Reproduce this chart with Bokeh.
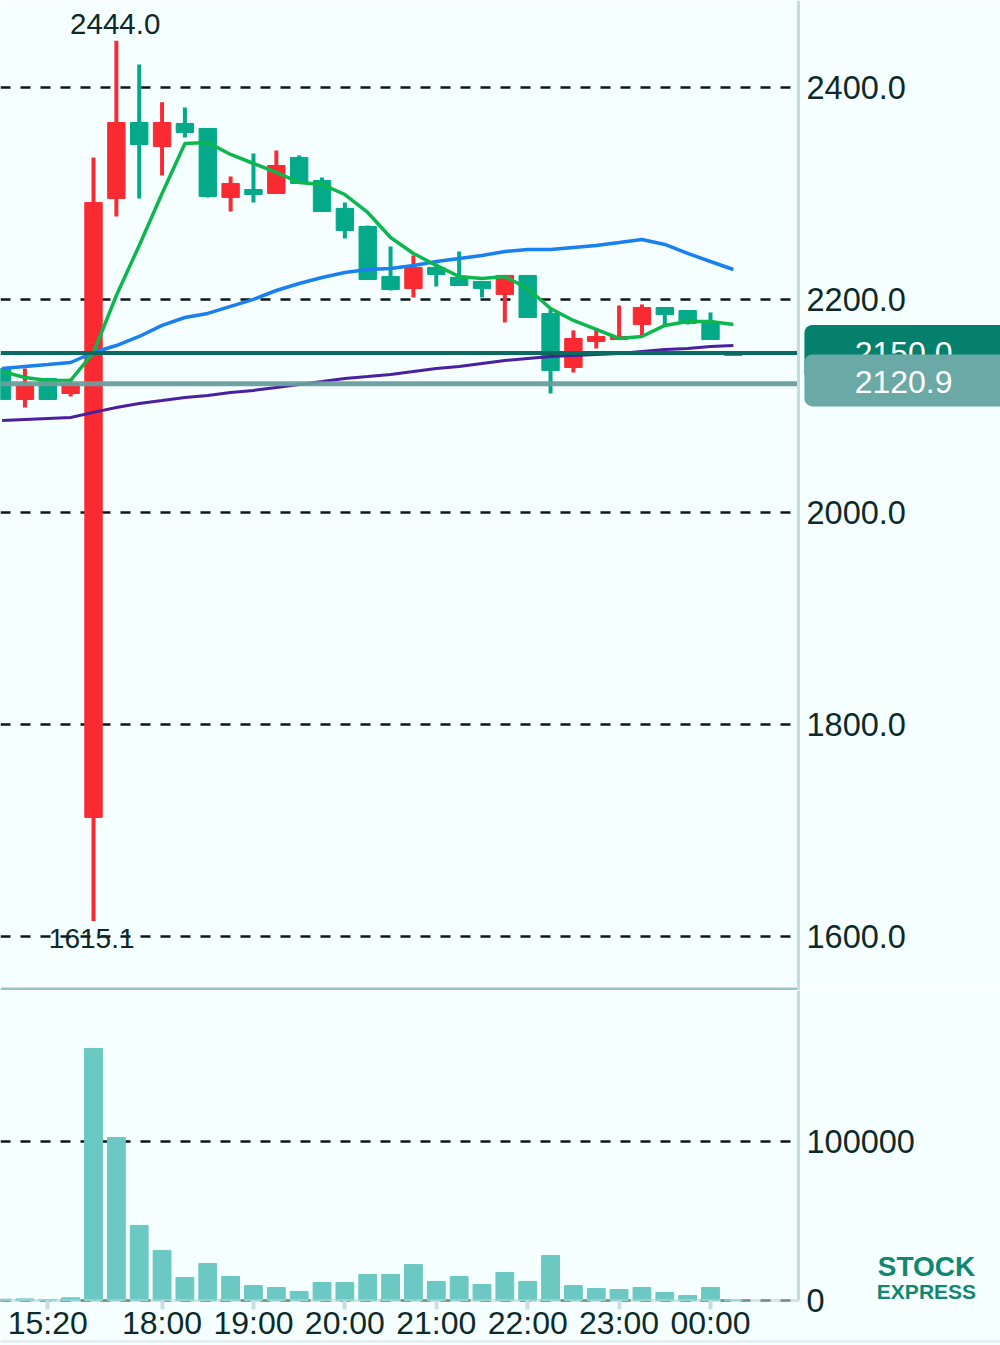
from bokeh.core.properties import value
from bokeh.embed import file_html
from bokeh.layouts import column
from bokeh.models import BoxAnnotation, ColumnDataSource, FixedTicker, Grid, Label, LinearAxis, Range1d
from bokeh.plotting import figure
from bokeh.resources import INLINE

opens = [2135.4, 2106.2, 2126.0, 2111.8, 1712.6, 2295.5, 2367.0, 2344.4, 2366.1, 2361.4, 2296.4, 2303.9, 2300.2, 2334.1, 2312.4, 2286.1, 2269.1, 2222.0, 2210.7, 2230.5, 2221.1, 2217.3, 2205.1, 2223.0, 2187.2, 2136.3, 2160.8, 2162.7, 2176.8, 2192.8, 2190.0, 2177.8, 2150.0]
highs = [2135.4, 2135.4, 2126.0, 2126.0, 2334.1, 2444.0, 2421.7, 2386.0, 2381.2, 2361.4, 2316.2, 2337.8, 2340.7, 2336.0, 2315.2, 2291.7, 2270.0, 2250.3, 2241.8, 2234.3, 2245.6, 2217.3, 2223.0, 2223.0, 2190.9, 2171.2, 2173.1, 2194.7, 2195.7, 2192.8, 2190.0, 2188.1, 2150.0]
lows = [2106.2, 2098.7, 2106.2, 2109.0, 1615.1, 2278.5, 2295.5, 2317.1, 2352.9, 2296.4, 2283.2, 2291.7, 2300.2, 2309.6, 2283.2, 2257.8, 2219.2, 2208.8, 2202.2, 2212.6, 2213.5, 2202.2, 2178.7, 2183.4, 2111.8, 2131.6, 2154.2, 2162.7, 2166.5, 2175.9, 2176.8, 2162.7, 2147.6]
closes = [2106.2, 2119.4, 2106.2, 2121.3, 2291.7, 2367.0, 2346.3, 2367.0, 2357.6, 2297.4, 2309.6, 2299.2, 2326.5, 2309.6, 2283.2, 2265.3, 2219.2, 2209.8, 2230.5, 2223.9, 2213.5, 2210.7, 2223.0, 2183.4, 2133.5, 2163.6, 2165.5, 2165.5, 2192.8, 2186.2, 2177.8, 2162.7, 2147.6]
volumes = [800, 1000, 600, 1700, 158500, 102500, 47200, 31500, 14500, 23300, 15100, 9400, 8200, 5700, 11300, 11300, 16400, 16400, 22600, 12000, 15100, 10100, 17600, 12000, 28300, 9400, 7500, 6900, 8200, 5000, 3100, 8200, 300]
ma_green = [2132.6, 2126.9, 2124.1, 2124.1, 2150.4, 2204.1, 2251.2, 2300.2, 2347.3, 2348.2, 2336.9, 2328.4, 2320.0, 2310.5, 2308.7, 2299.2, 2282.3, 2258.7, 2243.7, 2232.4, 2222.0, 2220.1, 2222.0, 2210.7, 2191.9, 2180.6, 2172.1, 2163.6, 2165.5, 2175.9, 2179.6, 2179.6, 2176.8]
ma_blue = [2135.4, 2137.3, 2139.1, 2141.0, 2150.4, 2157.0, 2165.5, 2175.9, 2183.4, 2187.2, 2193.8, 2200.4, 2208.8, 2215.4, 2221.1, 2225.8, 2228.6, 2229.6, 2232.4, 2236.1, 2239.0, 2241.8, 2245.6, 2247.4, 2247.4, 2249.3, 2251.2, 2254.0, 2256.9, 2252.2, 2243.7, 2236.1, 2228.6]
ma_purple = [2086.4, 2087.4, 2088.3, 2089.2, 2094.0, 2098.7, 2102.4, 2105.2, 2108.1, 2110.0, 2112.8, 2114.7, 2117.5, 2120.3, 2123.1, 2126.0, 2127.8, 2129.7, 2132.6, 2135.4, 2137.3, 2140.1, 2142.9, 2144.8, 2146.7, 2147.6, 2148.6, 2149.5, 2151.4, 2153.3, 2154.2, 2156.1, 2157.0]

time_ticks = [2, 7, 11, 15, 19, 23, 27, 31]
time_labels = ["15:20", "18:00", "19:00", "20:00", "21:00", "22:00", "23:00", "00:00"]
price_ticks = [1600, 1800, 2000, 2200, 2400]
volume_ticks = [0, 100000]
last_price = 2150.0
avg_price = 2120.9
high_label = 2444.0
low_label = 1615.1

BG = "#f5ffff"
TEXT = "#0c2a2a"
RED = "#fa2a32"
GREEN = "#04a98a"
FONT = "Liberation Sans"

x = list(range(len(opens)))
colors = [RED if c >= o else GREEN for o, c in zip(opens, closes)]
source = ColumnDataSource(data=dict(
    x=x,
    top=[max(o, c) for o, c in zip(opens, closes)],
    bottom=[min(o, c) for o, c in zip(opens, closes)],
    high=highs,
    low=lows,
    color=colors,
    volume=volumes,
))

# the frames run the full width, the y axes sit at x_edge and the price tags to the right of it
x_start, x_edge, x_end = -0.07, 34.85, 43.69
tag_left, tag_mid, logo_mid = 35.11, 39.45, 40.45
price_bottom, price_top = 1549.6, 2481.9
vol_bottom, vol_top = -28302, 194969
x_range = Range1d(x_start, x_end)


def style_panel(p, ticks, bottom, top):
    p.background_fill_color = BG
    p.border_fill_color = BG
    p.outline_line_color = None
    p.min_border = 0
    p.grid.visible = False
    p.add_layout(Grid(dimension=1, ticker=FixedTicker(ticks=ticks), cross_bounds=(x_start, x_edge),
                      grid_line_color="#081818", grid_line_width=2.5, grid_line_dash="10 10"))
    ax = LinearAxis(fixed_location=x_edge, ticker=FixedTicker(ticks=ticks), bounds=(bottom, top))
    ax.axis_line_color = "#c5dbe3"
    ax.axis_line_width = 3
    ax.major_tick_line_color = None
    ax.minor_tick_line_color = None
    ax.major_label_text_font = FONT
    ax.major_label_text_font_size = "32.5px"
    ax.major_label_text_color = TEXT
    ax.major_label_standoff = 2
    p.add_layout(ax, "right")
    return ax


p = figure(width=1000, height=990, x_range=x_range, y_range=Range1d(price_bottom, price_top),
           x_axis_location=None, y_axis_location=None, output_backend="svg", toolbar_location=None)
ax = style_panel(p, price_ticks, price_bottom, price_top)
ax.major_label_overrides = {t: f"{t:.1f}" for t in price_ticks}

p.segment(x0="x", x1="x", y0="low", y1="high", color="color", line_width=4, source=source)
p.vbar(x="x", width=0.76, top="top", bottom="bottom", fill_color="color", line_color="color",
       line_width=1, source=source)
p.line(x, ma_purple, line_color="#4a1fa0", line_width=3)
p.line(x, ma_blue, line_color="#1a80f0", line_width=3.5)
p.line(x, ma_green, line_color="#0db74e", line_width=3.5)

p.segment([x_start], [last_price], [x_edge], [last_price], line_color="#0b6b60", line_width=4)
p.segment([x_start], [avg_price], [x_edge], [avg_price], line_color="#6a9e9e", line_width=5, line_alpha=0.95)
p.segment([x_start], [price_bottom], [x_edge], [price_bottom], line_color="#9dbfc9", line_width=6)

p.text([4.95], [high_label], text=[f"{high_label:.1f}"], text_align="center", text_baseline="bottom",
       text_font=value(FONT), text_font_size="29.5px", text_color=TEXT, y_offset=-7)
p.text([3.92], [low_label], text=[f"{low_label:.1f}"], text_align="center", text_baseline="middle",
       text_font=value(FONT), text_font_size="28px", text_color=TEXT, y_offset=18)

p.add_layout(BoxAnnotation(left=tag_left, right=x_end + 1, top=last_price + 26.4, bottom=last_price - 26.4,
                           fill_color="#05806c", fill_alpha=1, line_color=None, border_radius=8))
p.add_layout(Label(x=tag_mid, y=last_price, text=f"{last_price:.1f}", text_align="center",
                   text_baseline="middle", text_font=FONT, text_font_size="32px", text_color="#ffffff"))
p.add_layout(BoxAnnotation(left=tag_left, right=x_end + 1, top=avg_price + 27.7, bottom=avg_price - 21.3,
                           fill_color="#6ba9a6", fill_alpha=1, line_color=None, border_radius=8))
p.add_layout(Label(x=tag_mid, y=avg_price + 1.5, text=f"{avg_price:.1f}", text_align="center",
                   text_baseline="middle", text_font=FONT, text_font_size="32px", text_color="#ffffff"))

v = figure(width=1000, height=355, x_range=x_range, y_range=Range1d(vol_bottom, vol_top),
           x_axis_location=None, y_axis_location=None, output_backend="svg", toolbar_location=None)
vax = style_panel(v, volume_ticks, 0, vol_top)
vax.major_label_overrides = {t: str(t) for t in volume_ticks}

xax = LinearAxis(fixed_location=0, ticker=FixedTicker(ticks=time_ticks), bounds=(x_start, x_edge))
xax.major_label_overrides = dict(zip(time_ticks, time_labels))
xax.axis_line_color = "#b9d3dc"
xax.axis_line_width = 3
xax.axis_line_alpha = 0.6
xax.major_tick_line_color = "#c9dde6"
xax.major_tick_line_width = 4
xax.major_tick_out = 9
xax.major_tick_in = 0
xax.minor_tick_line_color = None
xax.major_label_text_font = FONT
xax.major_label_text_font_size = "32px"
xax.major_label_text_color = TEXT
xax.major_label_standoff = -4
v.add_layout(xax, "below")

v.vbar(x="x", width=0.78, top="volume", bottom=0, fill_color="#6cc8c2", line_color="#6cc8c2",
       source=source)
v.segment([x_start], [-25786], [x_end], [-25786], line_color="#dfe8f2", line_width=2)

v.add_layout(Label(x=logo_mid, y=21384, text="STOCK", text_align="center",
                   text_baseline="middle", text_font=FONT, text_font_style="bold",
                   text_font_size="28px", text_color="#12876f"))
v.add_layout(Label(x=logo_mid, y=5660, text="EXPRESS", text_align="center",
                   text_baseline="middle", text_font=FONT, text_font_style="bold",
                   text_font_size="21px", text_color="#12876f"))

page = column(p, v, spacing=0, margin=0)

open("out.html", "w").write(file_html(page, INLINE))
